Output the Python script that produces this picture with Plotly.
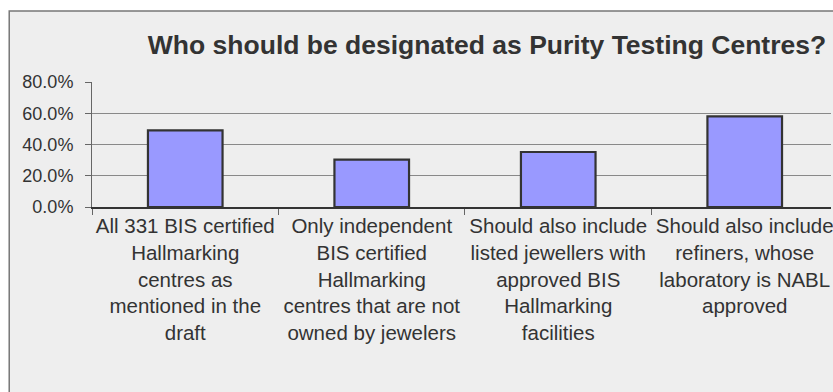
import plotly.graph_objects as go

# Survey responses: who should act as purity testing centres
categories = [
    "All 331 BIS certified<br>Hallmarking<br>centres as<br>mentioned in the<br>draft",
    "Only independent<br>BIS certified<br>Hallmarking<br>centres that are not<br>owned by jewelers",
    "Should also include<br>listed jewellers with<br>approved BIS<br>Hallmarking<br>facilities",
    "Should also include<br>refiners, whose<br>laboratory is NABL<br>approved",
]
shares = [0.49, 0.303, 0.352, 0.58]
y_ticks = [0.0, 0.2, 0.4, 0.6, 0.8]
title_text = "Who should be designated as Purity Testing Centres?"

W, H = 833, 392
ML, MR, MT, MB = 92, 0, 82, 185
cat_px = 187.0  # width of one category slot
plot_w = W - ML - MR
x_end = -0.5 + plot_w / cat_px

fig = go.Figure(
    go.Bar(
        x=categories,
        y=shares,
        width=0.4,
        marker=dict(color="#9999ff", line=dict(color="#333333", width=2.2)),
        hoverinfo="skip",
    )
)

# chart frame with light grey fill
fig.add_shape(
    type="rect", xref="paper", yref="paper", layer="below",
    x0=(9 - ML) / plot_w, x1=1.2,
    y0=-2.0, y1=(H - MB - 11) / (H - MT - MB),
    fillcolor="#eeeeee", line=dict(color="#777777", width=1.5),
)

fig.update_layout(
    width=W, height=H,
    margin=dict(l=ML, r=MR, t=MT, b=MB, pad=0),
    paper_bgcolor="white",
    plot_bgcolor="rgba(0,0,0,0)",
    showlegend=False,
    font=dict(family="Liberation Sans, Arial, sans-serif", color="#333333"),
    title=dict(
        text="<b>" + title_text + "</b>",
        xref="container", yref="container",
        x=487 / W, y=1 - 45 / H, xanchor="center", yanchor="middle",
        font=dict(size=26.5, color="#333333"),
    ),
    xaxis=dict(
        type="category",
        range=[-0.5, x_end],
        tickangle=0,
        tickson="boundaries",
        ticks="outside", ticklen=6, tickcolor="#666666",
        ticklabeloverflow="allow",
        showline=True, linecolor="#333333", linewidth=1.5,
        showgrid=False, zeroline=False,
        tickfont=dict(size=20.5, color="#333333"),
        fixedrange=True,
    ),
    yaxis=dict(
        range=[0, 0.8],
        tickmode="array", tickvals=y_ticks, tickformat=".1%",
        ticks="outside", ticklen=6, tickcolor="#666666",
        ticklabelstandoff=8,
        showline=True, linecolor="#666666", linewidth=1,
        showgrid=True, gridcolor="#888888", gridwidth=1,
        zeroline=False,
        tickfont=dict(size=18, color="#333333"),
        fixedrange=True,
    ),
)

fig.write_html("out.html", config={"displayModeBar": False})
